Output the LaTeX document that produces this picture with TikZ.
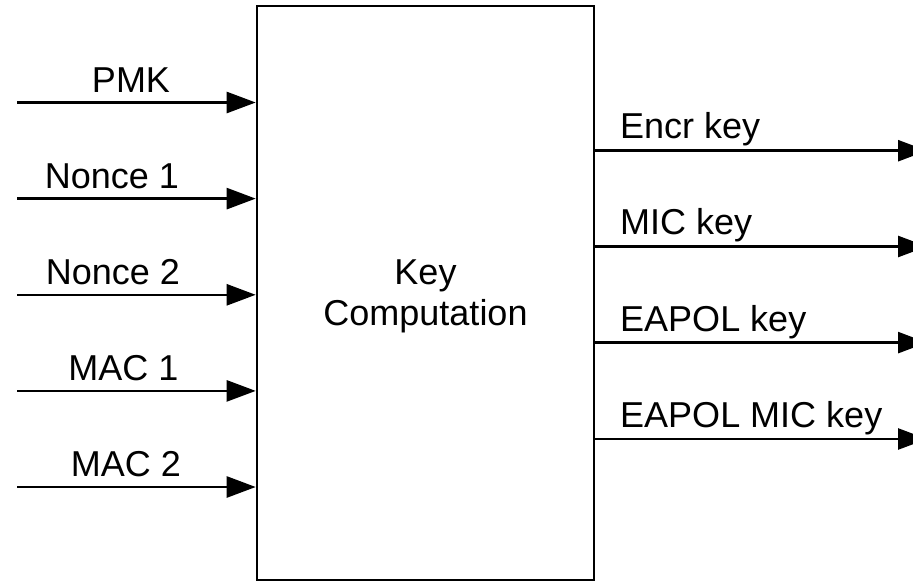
\documentclass[tikz,border=0pt]{standalone}
\usepackage{fontspec}
\setmainfont{Liberation Sans}
\usetikzlibrary{arrows.meta}
\begin{document}
\begin{tikzpicture}[x=1pt,y=1pt,
  lbl/.style={font=\fontsize{36}{41}\selectfont, inner sep=0pt},
  arr/.style={line width=2.6pt, -{Triangle[length=29pt,width=21pt]}},
  boxst/.style={draw, line width=2.6pt, minimum width=337pt, minimum height=574pt, inner sep=0pt}]
\useasboundingbox (0,0) rectangle (913,-582);
\node[boxst] (kc) at (425.5,-293) {};
\node[lbl, align=center] (kct) at (425.5,-296.5) {Key\\Computation};
% inputs
\coordinate (i1) at (17,-102.5);
\coordinate (i2) at (17,-198.6);
\coordinate (i3) at (17,-294.8);
\coordinate (i4) at (17,-390.9);
\coordinate (i5) at (17,-487);
\foreach \c in {i1,i2,i3,i4,i5} \draw[arr] (\c) -- (\c -| kc.west);
\node[lbl, anchor=base] (lpmk) at (131,-92) {PMK};
\node[lbl, anchor=base] (ln1) at (112,-188) {Nonce 1};
\node[lbl, anchor=base] (ln2) at (113,-284.3) {Nonce 2};
\node[lbl, anchor=base] (lm1) at (123.5,-380.4) {MAC 1};
\node[lbl, anchor=base] (lm2) at (126,-476.5) {MAC 2};
% outputs
\coordinate (o1) at (927,-150.7);
\coordinate (o2) at (927,-246.5);
\coordinate (o3) at (927,-342.6);
\coordinate (o4) at (927,-439);
\foreach \c in {o1,o2,o3,o4} \draw[arr] (\c -| kc.east) -- (\c);
\node[lbl, anchor=base west] (lo1) at (620,-138.5) {Encr key};
\node[lbl, anchor=base west] (lo2) at (620,-234.5) {MIC key};
\node[lbl, anchor=base west] (lo3) at (620,-331.5) {EAPOL key};
\node[lbl, anchor=base west] (lo4) at (620,-427) {EAPOL MIC key};
\end{tikzpicture}
\end{document}
